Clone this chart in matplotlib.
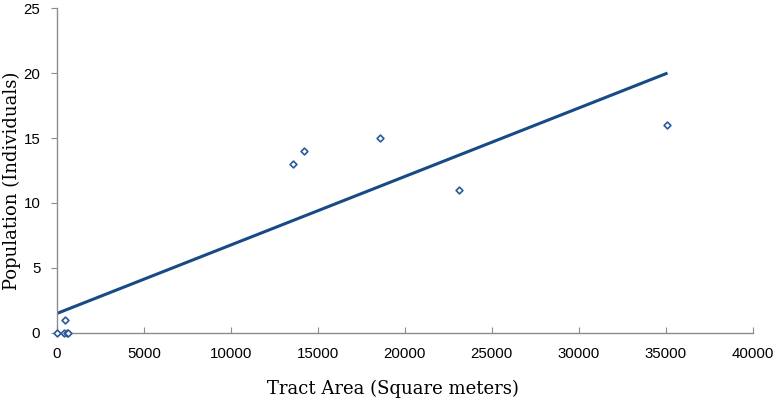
import numpy as np
import matplotlib
matplotlib.use("Agg")
import matplotlib.pyplot as plt

area = [0, 400, 550, 650, 430, 13560, 14200, 18560, 23100, 35060]
population = [0, 0, 0, 0, 1, 13, 14, 15, 11, 16]
trend_x = [0, 35100]
trend_y = [1.5, 20]

fig = plt.figure(figsize=(7.76, 4.05), dpi=100)
ax = fig.add_axes([0.0735, 0.178, 0.8965, 0.802])

ax.plot(trend_x, trend_y, color="#174a86", lw=2.2, solid_capstyle="butt", zorder=2)
ax.scatter(area, population, marker="D", s=12, facecolors="white",
           edgecolors="#2a5a9a", linewidths=1.2, zorder=3, clip_on=False)

ax.set_xlim(0, 40000)
ax.set_ylim(0, 25)
ax.set_xticks(np.arange(0, 40001, 5000))
ax.set_yticks(np.arange(0, 26, 5))
for s in ["top", "right"]:
    ax.spines[s].set_visible(False)
for s in ["left", "bottom"]:
    ax.spines[s].set_color("#8c8c8c")
    ax.spines[s].set_linewidth(1.0)
ax.tick_params(axis="x", direction="in", length=4, color="#8c8c8c", pad=10,
               labelsize=10.8)
ax.tick_params(axis="y", direction="out", length=4, color="#8c8c8c", pad=8,
               labelsize=10.8)
for lab in ax.get_xticklabels() + ax.get_yticklabels():
    lab.set_fontfamily("Liberation Sans")

# axis titles placed in figure coords to match the reference layout
fig.text(0.506, 0.040, "Tract Area (Square meters)", fontfamily="DejaVu Serif",
         fontsize=13, ha="center", va="center")
fig.text(0.015, 0.553, "Population (Individuals)", fontfamily="DejaVu Serif",
         fontsize=13, ha="center", va="center", rotation=90)

fig.savefig("out.png", dpi=100)
